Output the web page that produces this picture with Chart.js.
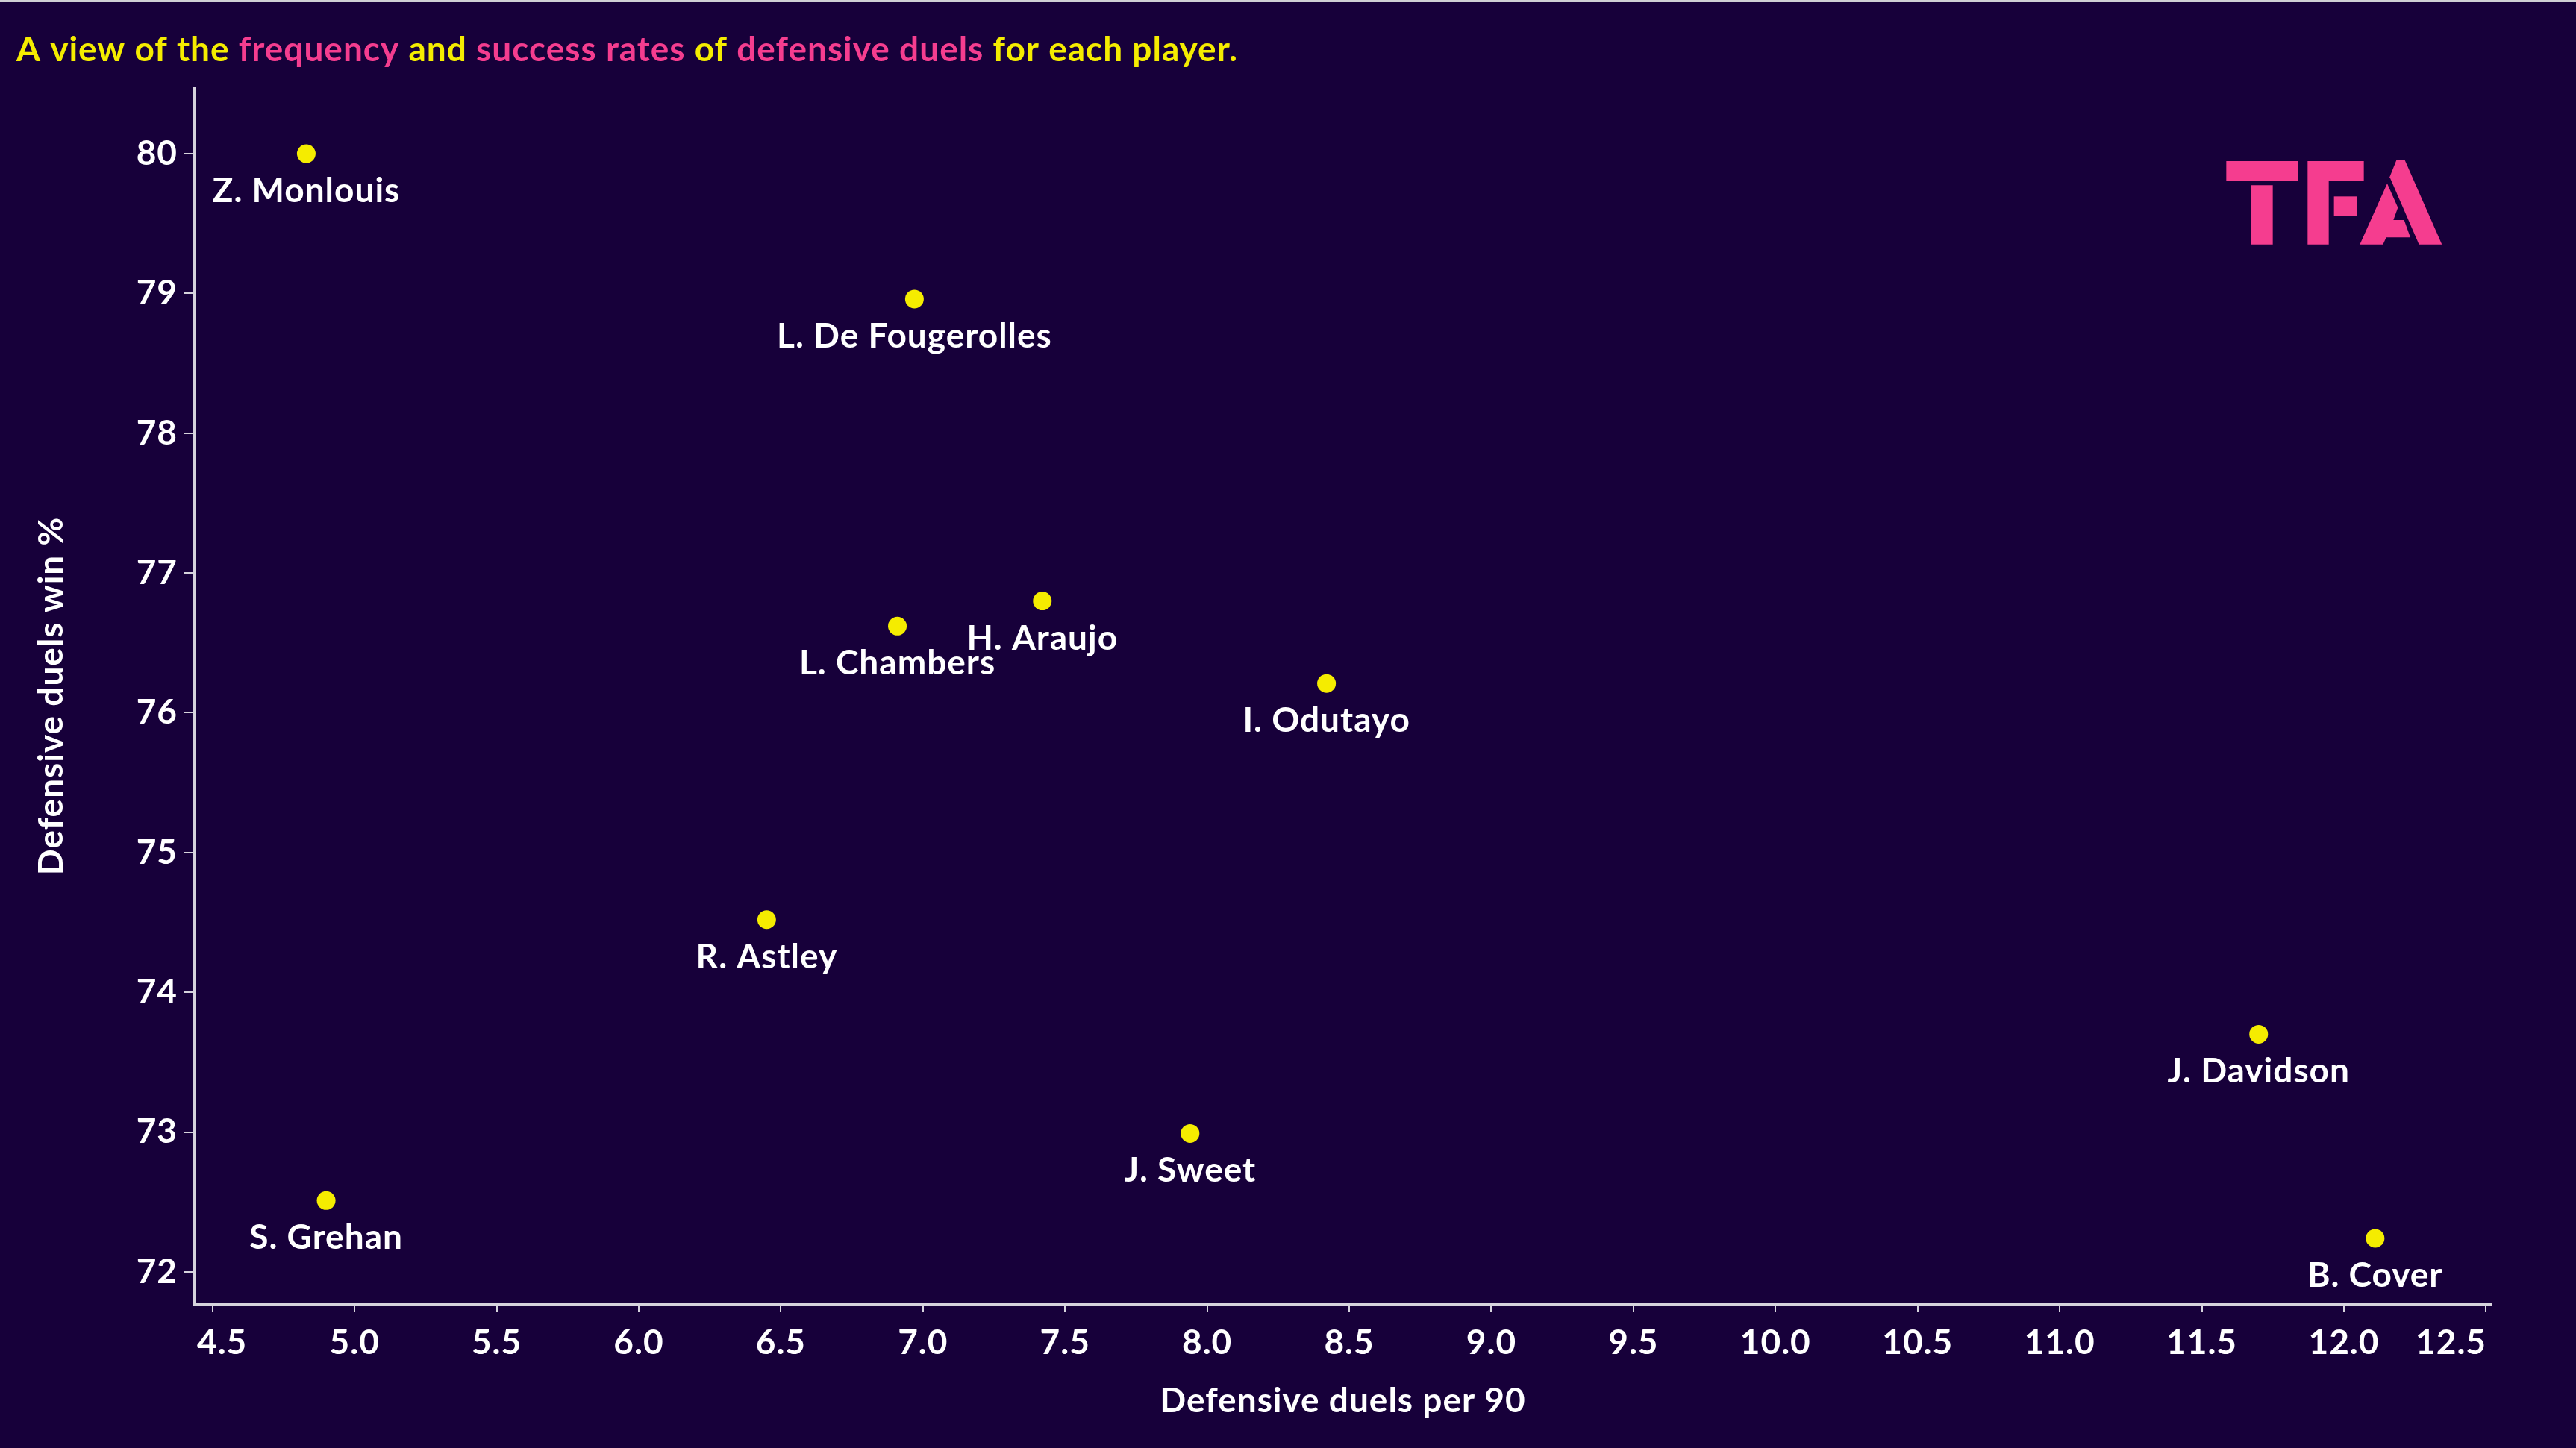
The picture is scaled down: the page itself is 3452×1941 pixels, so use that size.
<!DOCTYPE html>
<html><head><meta charset="utf-8">
<script src="https://cdn.jsdelivr.net/npm/chart.js@4.4.1/dist/chart.umd.min.js"></script>
<style>html,body{margin:0;padding:0;background:#17003a;overflow:hidden}</style>
</head><body>
<canvas id="c" width="3452" height="1941" style="width:3452px;height:1941px;display:block"></canvas>
<script>
// ---- data ----
const players = ["Z. Monlouis","L. De Fougerolles","L. Chambers","H. Araujo","I. Odutayo","R. Astley","J. Sweet","S. Grehan","J. Davidson","B. Cover"];
const duelsPer90 = [4.83, 6.97, 6.91, 7.42, 8.42, 6.45, 7.94, 4.90, 11.70, 12.11];
const winPct = [80.00, 78.96, 76.62, 76.80, 76.21, 74.52, 72.99, 72.51, 73.70, 72.24];
const xTicks = [4.5,5.0,5.5,6.0,6.5,7.0,7.5,8.0,8.5,9.0,9.5,10.0,10.5,11.0,11.5,12.0,12.5];
const yTicks = [72,73,74,75,76,77,78,79,80];
const titleParts = [["A view of the ","y"],["frequency","p"],[" and ","y"],["success rates","p"],[" of ","y"],["defensive duels","p"],[" for each player.","y"]];
const xTitle = "Defensive duels per 90";
const yTitle = "Defensive duels win %";

// ---- style ----
const BG = "#17003a", YEL = "#f5ec00", PINK = "#f53d8f", AX = "#d6d3dc";
const FONT = "Lato";
const FS = 46;
const SPACING = "1px";
const points = duelsPer90.map((x,i)=>({x:x, y:winPct[i]}));

const deco = {
  id:'deco',
  beforeLayout(chart){ chart.ctx.letterSpacing = SPACING; },
  beforeDraw(chart){
    const c = chart.ctx;
    c.letterSpacing = SPACING;
    c.save(); c.fillStyle = BG; c.fillRect(0,0,chart.width,chart.height);
    c.fillStyle = "#cfcfd4"; c.fillRect(0,0,chart.width,3);
    c.restore();
  },
  afterDatasetsDraw(chart){
    const c = chart.ctx;
    const meta = chart.getDatasetMeta(0);
    c.save();
    c.letterSpacing = SPACING;
    c.font = "bold " + FS + "px " + FONT;
    c.fillStyle = "#ffffff";
    c.textAlign = "center";
    c.textBaseline = "alphabetic";
    meta.data.forEach((el,i)=>{ c.fillText(players[i], el.x, el.y + 65); });
    c.restore();
  },
  afterDraw(chart){
    const c = chart.ctx;
    c.save();
    c.letterSpacing = SPACING;
    // x tick labels, kept inside the axis extent like the original
    const xs = chart.scales.x;
    c.font = "bold " + FS + "px " + FONT;
    c.fillStyle = "#ffffff";
    c.textAlign = "left"; c.textBaseline = "alphabetic";
    xTicks.forEach(v=>{
      const t = v.toFixed(1);
      const w = c.measureText(t).width;
      let left = xs.getPixelForValue(v) - w/2;
      left = Math.max(left, xs.left + 4);
      left = Math.min(left, xs.right - 7 - w);
      c.fillText(t, left, 1815);
    });
    // title
    c.font = "bold " + FS + "px " + FONT;
    let x = 22;
    titleParts.forEach(([t,col])=>{
      c.fillStyle = col === "p" ? PINK : YEL;
      c.fillText(t, x, 82);
      x += c.measureText(t).width;
    });
    // logo
    const P = (cx,cy)=>[2900+cx/3, 150+cy/3];
    const polys = [
      [[250,198],[537,198],[537,277],[250,277]],
      [[350,295],[437,295],[437,533],[350,533]],
      [[577,198],[803,198],[803,277],[662,277],[662,533],[577,533]],
      [[683,340],[777,340],[777,420],[683,420]],
      [[935,192],[967,192],[1117,533],[1025,533],[907,262]],
      [[897,288],[940,385],[922,435],[965,435],[990,505],[893,505],[880,533],[787,533]]
    ];
    c.fillStyle = PINK;
    polys.forEach(poly=>{
      c.beginPath();
      poly.forEach((p,i)=>{ const [px,py]=P(p[0],p[1]); if(i===0) c.moveTo(px,py); else c.lineTo(px,py); });
      c.closePath(); c.fill();
    });
    c.restore();
  }
};

new Chart(document.getElementById('c'), {
  type:'scatter',
  data:{ datasets:[{ data: points, backgroundColor: YEL, borderWidth:0, pointRadius:12.5, pointHoverRadius:12.5, clip:false }] },
  options:{
    responsive:false, animation:false, devicePixelRatio:1,
    layout:{ padding:{ top:118, right:113, bottom:0, left:0 } },
    plugins:{ legend:{display:false}, tooltip:{enabled:false}, title:{display:false} },
    scales:{
      x:{
        type:'linear', position:'bottom', min:4.435, max:12.52,
        afterBuildTicks: s => { s.ticks = xTicks.map(v=>({value:v})); },
        afterFit: s => { s.height = 193; },
        grid:{ drawOnChartArea:false, drawTicks:true, tickLength:11, color:AX, lineWidth:2 },
        border:{ display:true, color:AX, width:3 },
        ticks:{ color:"rgba(0,0,0,0)", font:{family:FONT, size:FS, weight:'bold'}, padding:14, maxRotation:0, autoSkip:false,
                callback: v => Number(v).toFixed(1) },
        title:{ display:true, text:xTitle, color:"#ffffff", font:{family:FONT, size:FS, weight:'bold'}, padding:{top:0,bottom:35} }
      },
      y:{
        type:'linear', position:'left', min:71.77, max:80.47,
        afterBuildTicks: s => { s.ticks = yTicks.map(v=>({value:v})); },
        afterFit: s => { s.width = 260; },
        grid:{ drawOnChartArea:false, drawTicks:true, tickLength:13, color:AX, lineWidth:2 },
        border:{ display:true, color:AX, width:3 },
        ticks:{ color:"#ffffff", font:{family:FONT, size:FS, weight:'bold'}, padding:9, autoSkip:false,
                callback: v => String(v) },
        title:{ display:true, text:yTitle, color:"#ffffff", font:{family:FONT, size:FS, weight:'bold'}, padding:{top:42,bottom:0} }
      }
    }
  },
  plugins:[deco]
});
</script>
</body></html>
